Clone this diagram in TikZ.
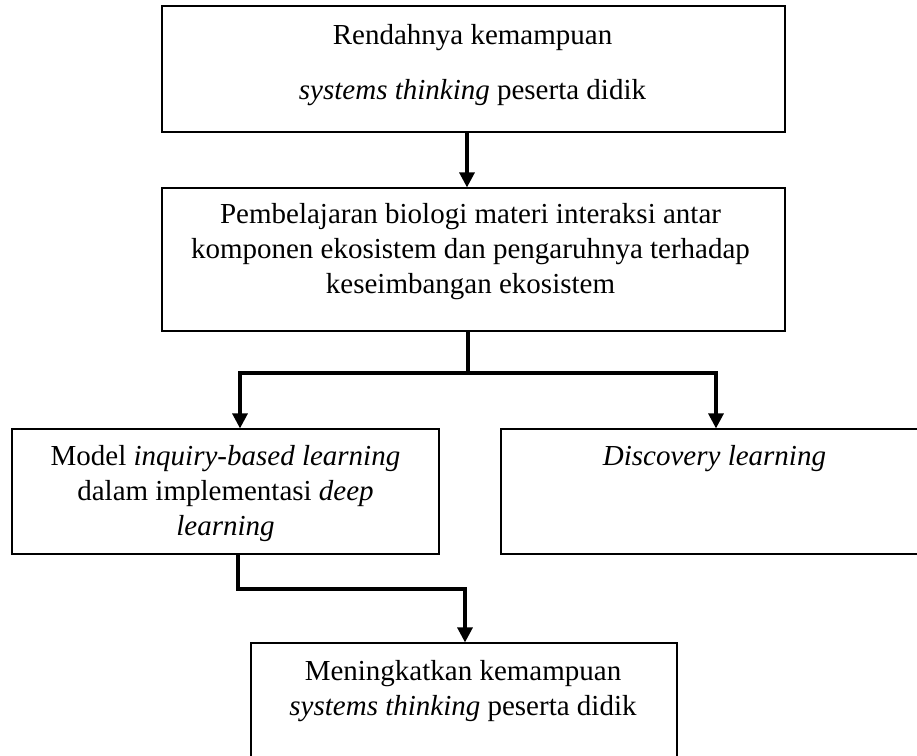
\documentclass[tikz,border=0pt]{standalone}
\usepackage{fontspec}
\setmainfont{Liberation Serif}
\usepackage{tikz}
\usetikzlibrary{arrows.meta, positioning}

\begin{document}
\begin{tikzpicture}[x=0.5pt, y=-0.5pt,
    box/.style={draw, line width=0.6pt, inner sep=0pt},
    label/.style={anchor=north, inner sep=0pt, align=center, font=\fontsize{14.5}{17.5}\selectfont},
    link/.style={line width=1.6pt},
    arrow/.style={line width=1.6pt, -{Triangle[length=7.5pt, width=7.5pt]}}]
  \useasboundingbox (0,0) rectangle (917,756);
  \clip (0,0) rectangle (917,756);

  % Boxes
  \node[box, minimum width=311.5pt, minimum height=63pt] (problem) at (473.5,69) {};
  \node[box, minimum width=311.5pt, minimum height=71.5pt] (topic) at (473.5,259.5) {};
  \node[box, minimum width=213.5pt, minimum height=62.5pt] (inquiry) at (225.5,491.5) {};
  \node[box, minimum width=213.5pt, minimum height=62.5pt] (discovery) at (714.5,491.5) {};
  \node[box, minimum width=213pt, minimum height=62.5pt] (result) at (464,705.5) {};

  % Texts
  \node[label, font=\fontsize{14.5}{27.5}\selectfont] (problemtext) at (472.5,24)
    {Rendahnya kemampuan\\ \textit{systems thinking} peserta didik};
  \node[label] (topictext) at (470.5,203)
    {Pembelajaran biologi materi interaksi antar\\ komponen ekosistem dan pengaruhnya terhadap\\ keseimbangan ekosistem};
  \node[label] (inquirytext) at (225.5,445)
    {Model \textit{inquiry-based learning}\\ dalam implementasi \textit{deep}\\ \textit{learning}};
  \node[label] (discoverytext) at (714.5,445) {\textit{Discovery learning}};
  \node[label] (resulttext) at (463,660)
    {Meningkatkan kemampuan\\ \textit{systems thinking} peserta didik};

  % Connectors
  \coordinate (split) at (468,373);
  \coordinate (merge) at (465,589);
  \draw[arrow] ([xshift=-3.25pt]problem.south) -- ([xshift=-3.25pt]topic.north);
  \draw[link] ([xshift=-2.75pt]topic.south) -- (split);
  \draw[arrow] (split) -| ([xshift=7.25pt]inquiry.north);
  \draw[arrow] (split) -| ([xshift=0.75pt]discovery.north);
  \draw[arrow] ([xshift=6.25pt]inquiry.south) |- (merge) -- (merge |- result.north);
\end{tikzpicture}
\end{document}
